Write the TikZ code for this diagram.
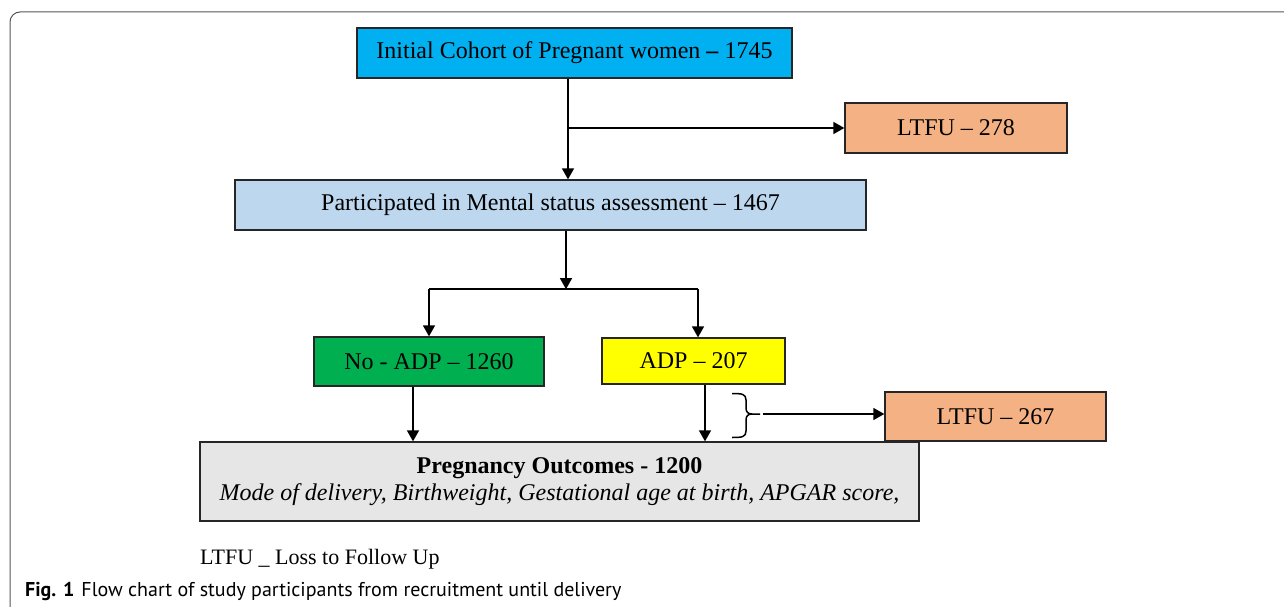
\documentclass[tikz,border=0pt]{standalone}
\usepackage{fontspec}
\setmainfont{Liberation Serif}
\newfontfamily\capfont{PT Sans}
\usetikzlibrary{arrows.meta}
\definecolor{cyanbox}{HTML}{00B0F0}
\definecolor{bluebox}{HTML}{BDD7EE}
\definecolor{greenbox}{HTML}{00B050}
\definecolor{yellowbox}{HTML}{FFFF00}
\definecolor{orangebox}{HTML}{F4B183}
\definecolor{graybox}{HTML}{E6E6E6}
\definecolor{framegray}{HTML}{555555}
\tikzset{
  box/.style={draw=black!85, line width=1.3pt, inner sep=0pt, align=center, font=\fontsize{24}{28}\selectfont},
  arr/.style={line width=1.5pt, -{Triangle[length=11pt,width=12pt]}},
  ln/.style={line width=1.5pt},
}
\begin{document}
\begin{tikzpicture}[x=1pt,y=-1pt]
\useasboundingbox (0,0) rectangle (1284,607);
% outer frame (open to right and bottom)
\draw[framegray, line width=1pt, rounded corners=10pt] (10,640) -- (10,12) -- (1300,12);

\node[box, fill=cyanbox, minimum width=435, minimum height=50] (init) at (574.5,53) {Initial Cohort of Pregnant women \textbf{--} 1745};
\node[box, fill=orangebox, minimum width=222, minimum height=50] (ltfuA) at (956,128) {LTFU -- 278};
\node[box, fill=bluebox, minimum width=631, minimum height=50] (part) at (550.5,205) {Participated in Mental status assessment -- 1467};
\node[box, fill=greenbox, minimum width=230, minimum height=49] (noadp) at (429,361.5) {No - ADP -- 1260};
\node[box, fill=yellowbox, minimum width=183, minimum height=46] (adp) at (693.5,361) {ADP -- 207};
\node[box, fill=orangebox, minimum width=221, minimum height=49] (ltfuB) at (995.5,416.5) {LTFU -- 267};
\node[box, fill=graybox, minimum width=719, minimum height=79] (preg) at (559.5,481.5) {{\bfseries Pregnancy Outcomes - 1200}\\[-1pt] {\itshape Mode of delivery, Birthweight, Gestational age at birth, APGAR score,}};

% connectors
\draw[arr] ([xshift=-6.5]init.south) -- ([xshift=-6.5]init.south |- part.north);
\draw[arr] ([xshift=-6.5]init.south |- ltfuA.west) -- (ltfuA.west);

\coordinate (split) at ([xshift=15.5,yshift=-58.5]part.south);
\draw[arr] ([xshift=15.5]part.south) -- (split);
\draw[ln] (split -| noadp.north) -- ([xshift=4.5]split -| adp.north);
\draw[arr] (split -| noadp.north) -- (noadp.north);
\draw[arr] ([xshift=4.5]split -| adp.north) -- ([xshift=4.5]adp.north);

\draw[arr] ([xshift=-16]noadp.south) -- ([xshift=-16]noadp.south |- preg.north);
\draw[arr] ([xshift=11.5]adp.south) -- ([xshift=11.5]adp.south |- preg.north);

% brace
\coordinate (btip) at (760,414);
\draw[line width=1.5pt] (732,393.5) .. controls (742,393.5) and (746,394) .. (746,400) -- (746,408)
   .. controls (746,412) and (748,414) .. (752,414) -- (btip);
\draw[line width=1.5pt] (732,437.5) .. controls (742,437.5) and (746,437) .. (746,431) -- (746,420)
   .. controls (746,416) and (748,414) .. (752,414);
\draw[arr] ([xshift=3]btip) -- (btip -| ltfuB.west);

% notes
\node[anchor=base west, inner sep=0pt, font=\fontsize{22}{26}\selectfont] (note) at (200,564) {LTFU \_ Loss to Follow Up};
\node[anchor=base west, inner sep=0pt, font=\capfont\fontsize{20}{24}\selectfont] (cap) at (25,596) {\textbf{Fig. 1}\hspace{7pt}Flow chart of study participants from recruitment until delivery};
\end{tikzpicture}
\end{document}
